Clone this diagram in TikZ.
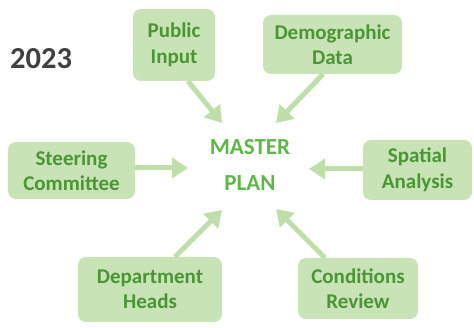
\documentclass[tikz,border=0pt]{standalone}
\usepackage{fontspec}
\setmainfont{Carlito}
\usetikzlibrary{arrows.meta}
\definecolor{boxfill}{HTML}{C8E3B6}
\definecolor{boxtext}{HTML}{4A9635}
\definecolor{mptext}{HTML}{5DB847}
\definecolor{arrowc}{HTML}{BEDEAA}
\definecolor{titlegray}{HTML}{404040}
\tikzset{
  srcbox/.style={fill=boxfill, draw=none, rounded corners=8pt, align=center, inner sep=0pt,
    text=boxtext, font=\fontsize{21}{25.5}\selectfont\bfseries},
  arr/.style={draw=arrowc, line width=5pt, -{Triangle[length=16pt,width=20pt]}},
  mp/.style={text=mptext, font=\fontsize{23}{28}\selectfont\bfseries, inner sep=0pt}
}
\begin{document}
\begin{tikzpicture}[x=1pt,y=-1pt]
\useasboundingbox (0,0) rectangle (474,328);
\node[anchor=base west, text=titlegray, font=\fontsize{30.5}{36}\selectfont\bfseries, inner sep=0pt] (yr) at (10,69) {2023};
\node[srcbox, minimum width=82pt, minimum height=72pt] (pub) at (174,45) {Public\\Input};
\node[srcbox, minimum width=139pt, minimum height=59pt] (dem) at (332.5,44.5) {Demographic\\Data};
\node[srcbox, minimum width=127pt, minimum height=57pt] (ste) at (71.5,170.5) {Steering\\Committee};
\node[srcbox, minimum width=109pt, minimum height=60pt] (spa) at (417.5,170) {Spatial\\Analysis};
\node[srcbox, minimum width=144pt, minimum height=65pt] (dep) at (150,289.5) {Department\\Heads};
\node[srcbox, minimum width=120pt, minimum height=61pt] (con) at (358,288.5) {Conditions\\Review};
\node[mp] (m1) at (250,147) {MASTER};
\node[mp] (m2) at (250,183) {PLAN};
\coordinate (t1) at (222,123);
\coordinate (t2) at (276,123);
\coordinate (t3) at (188,168);
\coordinate (t4) at (309,169);
\coordinate (t5) at (222,210);
\coordinate (t6) at (276,209);
\draw[arr] ([xshift=14pt]pub.south) -- (t1);
\draw[arr] ([xshift=-9.5pt]dem.south) -- (t2);
\draw[arr] ([yshift=2.5pt]ste.east) -- (t3);
\draw[arr] ([yshift=1pt]spa.west) -- (t4);
\draw[arr] ([xshift=25pt]dep.north) -- (t5);
\draw[arr] ([xshift=-33pt]con.north) -- (t6);
\end{tikzpicture}
\end{document}
